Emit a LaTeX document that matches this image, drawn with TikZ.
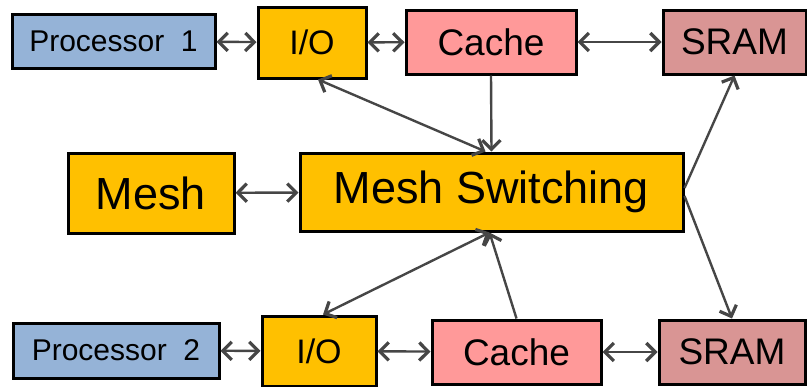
\documentclass[tikz,border=0pt]{standalone}
\usepackage{fontspec}
\setmainfont{Liberation Sans}
\usepackage{tikz}
\usetikzlibrary{arrows.meta,shadows}

\definecolor{procblue}{RGB}{149,179,215}
\definecolor{meshgold}{RGB}{255,192,0}
\definecolor{cachepink}{RGB}{255,153,153}
\definecolor{sramrose}{RGB}{217,149,148}
\definecolor{linkgray}{RGB}{70,70,70}

\begin{document}
\begin{tikzpicture}[x=0.5pt,y=-0.5pt,
                        box/.style={draw=black,line width=1.5pt,inner sep=0pt,
                        drop shadow={shadow xshift=1.2pt,shadow yshift=-1.2pt,fill=gray!70,opacity=0.7}},
                        proc/.style={box,fill=procblue,font=\fontsize{15}{18}\selectfont},
                        gold/.style={box,fill=meshgold},
                        cachebox/.style={box,fill=cachepink,font=\fontsize{18.5}{22}\selectfont},
                        srambox/.style={box,fill=sramrose,font=\fontsize{18.5}{22}\selectfont},
                        link/.style={linkgray,line width=1.2pt,>={Straight Barb[length=4.5pt,width=9pt,line width=1.6pt]}}
                        ]
                        \useasboundingbox (0,0) rectangle (807,386);
                        % top row
                        \node[proc,minimum width=101.5pt,minimum height=27pt] (proca) at (113.5,41) {Processor~~1};
                        \node[gold,minimum width=54pt,minimum height=35.5pt,font=\fontsize{17}{20}\selectfont] (ioa) at (312,42.5) {I/O};
                        \node[cachebox,minimum width=85pt,minimum height=32pt] (cachea) at (491,42) {Cache};
                        \node[srambox,minimum width=71.5pt,minimum height=32pt] (srama) at (734.5,42) {SRAM};
                        % middle row
                        \node[gold,minimum width=83pt,minimum height=40pt,font=\fontsize{22.5}{27}\selectfont] (mesh) at (151,193) {Mesh};
                        \node[gold,minimum width=191.5pt,minimum height=39pt,font=\fontsize{22.5}{27}\selectfont] (switch) at (491.5,192) {Mesh Switching};
                        % bottom row
                        \node[proc,minimum width=103pt,minimum height=27.5pt] (procb) at (116,350.5) {Processor~~2};
                        \node[gold,minimum width=57pt,minimum height=35pt,font=\fontsize{17}{20}\selectfont] (iob) at (319,351) {I/O};
                        \node[cachebox,minimum width=84.5pt,minimum height=32pt] (cacheb) at (516.5,352) {Cache};
                        \node[srambox,minimum width=73pt,minimum height=32pt] (sramb) at (732,352) {SRAM};

                        % links in the rows
                        \draw[link,<->] (proca) -- (ioa);
                        \draw[link,<->] (ioa) -- (cachea);
                        \draw[link,<->] (cachea) -- (srama);
                        \draw[link,<->] (mesh) -- (switch);
                        \draw[link,<->] (procb) -- (iob);
                        \draw[link,<->] (iob) -- (cacheb);
                        \draw[link,<->] (cacheb) -- (sramb);

                        % links to the switch
                        \draw[link,->] (cachea.south) -- (switch.north);
                        \draw[link,<->] ([xshift=3pt]ioa.south) -- ([xshift=-3pt]switch.north);
                        \draw[link,->] ([yshift=2pt]switch.east) -- (srama.south);
                        \draw[link,->] ([yshift=-2pt]switch.east) -- (sramb.north);
                        \draw[link,<->] ([xshift=2pt]iob.north) -- ([xshift=-1pt]switch.south);
                        \draw[link,->] (cacheb.north) -- ([xshift=-1pt]switch.south);
                \end{tikzpicture}
\end{document}
